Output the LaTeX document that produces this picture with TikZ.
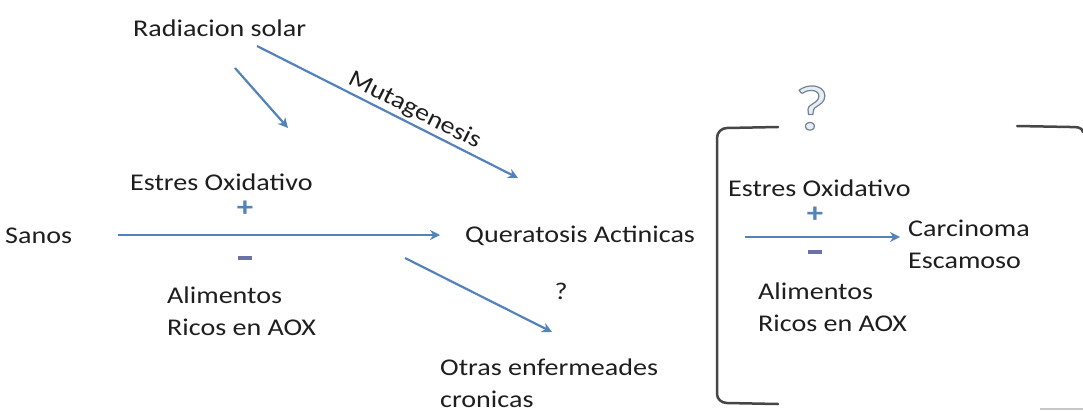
\documentclass[tikz,border=0pt]{standalone}
\usepackage{fontspec}
\setmainfont{Carlito}[FakeStretch=1.17]
\usetikzlibrary{arrows.meta,calc}
\definecolor{arrblue}{RGB}{84,130,186}
\definecolor{minblue}{RGB}{105,115,170}
\definecolor{txtgray}{RGB}{30,30,30}
\definecolor{brk}{RGB}{70,70,70}
\definecolor{qfill}{RGB}{228,238,248}
\definecolor{qdraw}{RGB}{120,130,140}
\newcommand{\outlinedq}{\special{pdf:literal direct 2 Tr 1.2 w 0.47 0.51 0.55 RG}?\special{pdf:literal direct 0 Tr}}
\tikzset{
  lbl/.style={font=\fontsize{24}{32}\selectfont, text=txtgray, inner sep=0pt},
  lblL/.style={lbl, anchor=west, align=left},
  arr/.style={draw=arrblue, line width=2.2pt, -{Stealth[length=10pt,width=10pt]}},
  sign/.style={font=\fontsize{28}{28}\selectfont\bfseries, text=arrblue, inner sep=0pt},
  msign/.style={fill=minblue, minimum width=14pt, minimum height=3.5pt, inner sep=0pt},
  bracket/.style={draw=brk, line width=2.5pt, line cap=round},
  bigq/.style={font=\fontsize{64}{64}\selectfont, inner sep=0pt}
}
\begin{document}
\begin{tikzpicture}[x=1pt,y=-1pt]
\useasboundingbox (0,0) rectangle (1083,412);
% left part
\node[lblL] (rad) at (133,28) {Radiacion solar};
\node[lblL] (eo1) at (130,182) {Estres Oxidativo};
\node[lblL] (sanos) at (5,236) {Sanos};
\node[lblL] (qa) at (465,236) {Queratosis Actinicas};
\node[lblL] (al1) at (167,311) {Alimentos\\Ricos en AOX};
\node[lblL] (otr) at (440,383) {Otras enfermeades\\cronicas};
\node[sign] (p1) at (245,209) {+};
\node[msign] (m1) at (245,258) {};
\node[lbl] (q1) at (561,291) {?};

\coordinate (a1s) at (235,68);
\coordinate (a1e) at (288,128);
\coordinate (a2s) at (257,46);
\coordinate (a2e) at (518,178);
\coordinate (a3s) at (118,235);
\coordinate (a3e) at (440,235);
\coordinate (a4s) at (405,258);
\coordinate (a4e) at (552,332);
\draw[arr] (a1s) -- (a1e);
\draw[arr] (a2s) -- (a2e);
\draw[arr] (a3s) -- (a3e);
\draw[arr] (a4s) -- (a4e);
\path (a2s) -- (a2e) node[lbl, pos=0.58, sloped, anchor=south, yshift=3pt] (mut) {Mutagenesis};

% bracket part
\draw[bracket] (778,127) -- (727,128) to[out=180,in=90] (717,138) -- (717,394) to[out=-90,in=180] (727,403) -- (778,404);
\draw[bracket] (1017,126) -- (1070,127) to[out=0,in=100] (1083,132);
\draw[draw=brk!30, line width=1.5pt] (1040,409) -- (1083,409);
\node[bigq, text=qfill] (bigq) at (812,108) {\outlinedq};
\node[lblL] (eo2) at (728,188) {Estres Oxidativo};
\node[sign] (p2) at (815,215) {+};
\node[msign] (m2) at (815,252) {};
\coordinate (a5s) at (745,237);
\coordinate (a5e) at (900,237);
\draw[arr] (a5s) -- (a5e);
\node[lblL] (car) at (908,244) {Carcinoma\\Escamoso};
\node[lblL] (al2) at (758,307) {Alimentos\\Ricos en AOX};
\end{tikzpicture}
\end{document}
